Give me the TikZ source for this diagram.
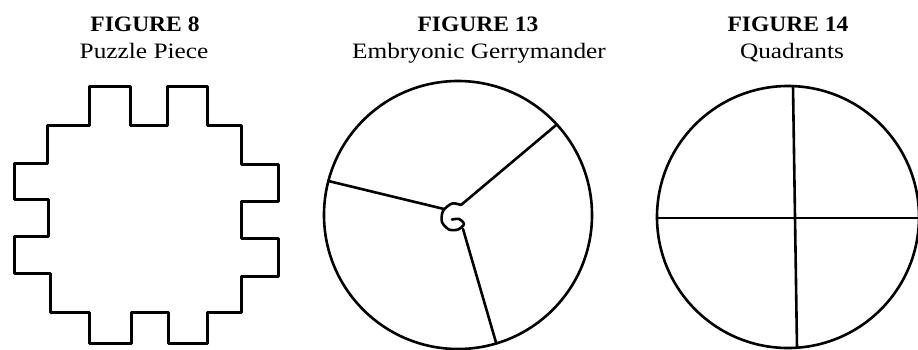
\documentclass[tikz,border=0pt]{standalone}
\usepackage{graphicx}
\usepackage{fontspec}
\setmainfont{Liberation Serif}
\tikzset{
  ink/.style={line width=3pt, line join=round, line cap=round},
  thin ink/.style={line width=2.6pt, line join=round, line cap=round},
  ttl/.style={anchor=base, inner sep=0pt, font=\fontsize{22}{22}\selectfont\bfseries},
  sub/.style={anchor=base, inner sep=0pt, font=\fontsize{22}{22}\selectfont},
}
\newcommand{\wideT}[1]{\scalebox{1.07}[1]{#1}}
\newcommand{\wideS}[1]{\scalebox{1.15}[1]{#1}}
\begin{document}
\begin{tikzpicture}[x=1pt,y=-1pt]
\useasboundingbox (0,0) rectangle (918,349);
% titles
\node[ttl] (t8) at (145,31) {\wideT{FIGURE 8}};
\node[sub] (s8) at (144,58) {\wideS{Puzzle Piece}};
\node[ttl] (t13) at (478,31) {\wideT{FIGURE 13}};
\node[sub] (s13) at (479,58) {\wideS{Embryonic Gerrymander}};
\node[ttl] (t14) at (788,31) {\wideT{FIGURE 14}};
\node[sub] (s14) at (792,58) {\wideS{Quadrants}};
% Figure 8: puzzle piece
\draw[ink] (89,86) -- (130,86) -- (130,125) -- (167,125) -- (167,86) -- (207,86)
  -- (207,125) -- (241,125) -- (241,164) -- (278,164) -- (278,201) -- (241,201)
  -- (241,238) -- (278,238) -- (278,276) -- (241,276) -- (241,312) -- (207,312)
  -- (207,343) -- (168,343) -- (168,312) -- (131,312) -- (131,343) -- (89,343)
  -- (89,312) -- (50,312) -- (50,273) -- (14,273) -- (14,236) -- (48,236)
  -- (48,199) -- (14,199) -- (14,163) -- (47,163) -- (47,125) -- (89,125) -- cycle;
% Figure 13
\coordinate (c13) at (458,215);
\draw[thin ink] (c13) circle[radius=134];
\path (c13) ++(42.5:134 and -134) coordinate (ur);
\path (c13) ++(165.3:134 and -134) coordinate (lf);
\path (c13) ++(286.6:134 and -134) coordinate (bt);
\coordinate (hA) at (461,205);
\coordinate (hL) at (444,209);
\coordinate (hB) at (463,229);
\draw[thin ink] (ur) -- (hA);
\draw[thin ink] (lf) -- (hL);
\draw[thin ink] (hB) -- (bt);
\draw[thin ink] plot[smooth] coordinates {(hA) (452,203.5) (443,211) (442,222) (449,229.5) (458,229.5) (464,224) (459,219) (452,219.5)};
% Figure 14
\coordinate (c14) at (788,217);
\draw[thin ink] (c14) circle[radius=131];
\coordinate (qt) at (793,86);
\coordinate (qb) at (797,348);
\coordinate (ql) at (657,218);
\coordinate (qr) at (919,218);
\draw[thin ink] (qt) -- (qb);
\draw[thin ink] (ql) -- (qr);
\end{tikzpicture}
\end{document}
